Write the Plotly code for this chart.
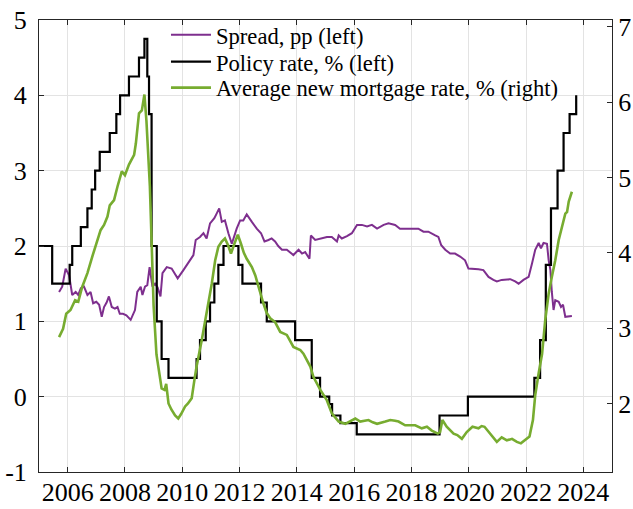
import plotly.graph_objects as go

# ---------------- data ----------------
policy_x = [2005.00, 2005.46, 2006.07, 2006.16, 2006.46, 2006.69, 2006.84, 2006.96, 2007.12,
            2007.47, 2007.70, 2007.83, 2008.14, 2008.49, 2008.68, 2008.78, 2008.84, 2008.93,
            2009.11, 2009.28, 2009.52, 2010.50, 2010.62, 2010.82, 2010.97, 2011.12, 2011.26,
            2011.44, 2011.96, 2012.10, 2012.75, 2012.95, 2013.94, 2014.52, 2014.81, 2015.13,
            2015.23, 2015.52, 2016.09, 2018.98, 2019.97, 2022.29, 2022.49, 2022.69, 2022.87,
            2023.10, 2023.31, 2023.52, 2023.75]
policy_y = [2.00, 1.50, 1.75, 2.00, 2.25, 2.50, 2.75, 3.00, 3.25,
            3.50, 3.75, 4.00, 4.25, 4.50, 4.75, 4.25, 3.75, 2.00,
            1.00, 0.50, 0.25, 0.50, 0.75, 1.00, 1.25, 1.50, 1.75,
            2.00, 1.75, 1.50, 1.25, 1.00, 0.75, 0.25, 0.00, -0.10,
            -0.25, -0.35, -0.50, -0.25, 0.00, 0.25, 0.75, 1.75, 2.50,
            3.00, 3.50, 3.75, 4.00]

spread_x = [2005.70, 2005.81, 2005.93, 2006.05, 2006.16, 2006.28, 2006.37, 2006.46, 2006.57,
            2006.69, 2006.80, 2006.89, 2007.00, 2007.10, 2007.19, 2007.27, 2007.36, 2007.44,
            2007.54, 2007.65, 2007.74, 2007.82, 2007.93, 2008.05, 2008.20, 2008.35, 2008.43,
            2008.55, 2008.61, 2008.70, 2008.78, 2008.86, 2008.96, 2009.05, 2009.14, 2009.24,
            2009.31, 2009.46, 2009.63, 2009.84, 2010.04, 2010.21, 2010.39, 2010.47, 2010.62,
            2010.74, 2010.85, 2010.97, 2011.12, 2011.20, 2011.29, 2011.38, 2011.49, 2011.61,
            2011.73, 2011.90, 2012.02, 2012.13, 2012.25, 2012.43, 2012.60, 2012.75, 2012.87,
            2013.01, 2013.12, 2013.24, 2013.35, 2013.48, 2013.65, 2013.88, 2014.06, 2014.18,
            2014.29, 2014.44, 2014.49, 2014.64, 2014.82, 2015.05, 2015.22, 2015.40, 2015.46,
            2015.57, 2015.75, 2015.92, 2016.10, 2016.27, 2016.45, 2016.62, 2016.80, 2017.03,
            2017.20, 2017.43, 2017.60, 2017.78, 2018.01, 2018.24, 2018.42, 2018.59, 2018.83,
            2018.94, 2019.04, 2019.18, 2019.35, 2019.52, 2019.70, 2019.87, 2019.99, 2020.16,
            2020.34, 2020.51, 2020.69, 2020.86, 2020.98, 2021.15, 2021.27, 2021.45, 2021.62,
            2021.74, 2021.91, 2022.09, 2022.21, 2022.32, 2022.44, 2022.52, 2022.61, 2022.73,
            2022.79, 2022.85, 2022.90, 2022.96, 2023.02, 2023.14, 2023.22, 2023.29, 2023.37,
            2023.49, 2023.60]
spread_y = [1.39, 1.46, 1.70, 1.61, 1.35, 1.39, 1.35, 1.44, 1.46,
            1.35, 1.39, 1.24, 1.26, 1.22, 1.06, 1.19, 1.25, 1.33,
            1.19, 1.17, 1.19, 1.10, 1.10, 1.08, 1.02, 1.15, 1.39,
            1.46, 1.35, 1.46, 1.48, 1.72, 1.46, 1.50, 1.45, 1.33,
            1.64, 1.72, 1.70, 1.57, 1.68, 1.77, 1.88, 2.08, 2.12,
            2.17, 2.10, 2.30, 2.37, 2.43, 2.50, 2.32, 2.34, 2.17,
            2.03, 2.23, 2.34, 2.34, 2.42, 2.32, 2.23, 2.17, 2.06,
            2.08, 2.10, 2.06, 2.00, 1.95, 1.95, 1.88, 1.95, 1.90,
            1.92, 1.83, 2.14, 2.08, 2.10, 2.12, 2.12, 2.06, 2.14,
            2.10, 2.13, 2.17, 2.28, 2.28, 2.26, 2.28, 2.23, 2.28,
            2.30, 2.28, 2.23, 2.23, 2.23, 2.23, 2.19, 2.19, 2.14,
            2.12, 2.01, 1.95, 1.90, 1.90, 1.86, 1.81, 1.70, 1.70,
            1.69, 1.68, 1.59, 1.55, 1.53, 1.55, 1.55, 1.56, 1.53,
            1.50, 1.55, 1.59, 1.77, 1.95, 2.04, 1.97, 2.04, 2.03,
            1.81, 1.68, 1.39, 1.15, 1.28, 1.26, 1.19, 1.22, 1.06,
            1.07, 1.07]

mortgage_x = [2005.70, 2005.84, 2005.95, 2006.10, 2006.26, 2006.37, 2006.51, 2006.69, 2006.86,
              2007.00, 2007.15, 2007.27, 2007.39, 2007.47, 2007.62, 2007.74, 2007.89, 2008.00,
              2008.14, 2008.32, 2008.38, 2008.49, 2008.59, 2008.68, 2008.75, 2008.87, 2008.93,
              2009.00, 2009.10, 2009.20, 2009.28, 2009.38, 2009.44, 2009.52, 2009.62, 2009.75,
              2009.86, 2009.96, 2010.10, 2010.20, 2010.33, 2010.42, 2010.50, 2010.68, 2010.85,
              2011.03, 2011.15, 2011.26, 2011.38, 2011.49, 2011.60, 2011.70, 2011.82, 2011.94,
              2012.05, 2012.15, 2012.25, 2012.43, 2012.55, 2012.66, 2012.83, 2012.95, 2013.07,
              2013.24, 2013.42, 2013.65, 2013.88, 2014.12, 2014.23, 2014.47, 2014.58, 2014.82,
              2015.05, 2015.22, 2015.46, 2015.69, 2015.85, 2016.04, 2016.21, 2016.50, 2016.65,
              2016.80, 2017.09, 2017.26, 2017.43, 2017.55, 2017.78, 2018.13, 2018.36, 2018.54,
              2018.71, 2018.92, 2019.00, 2019.08, 2019.23, 2019.47, 2019.60, 2019.76, 2019.93,
              2020.13, 2020.34, 2020.45, 2020.55, 2020.78, 2020.98, 2021.15, 2021.33, 2021.51,
              2021.68, 2021.82, 2021.97, 2022.12, 2022.24, 2022.32, 2022.44, 2022.56, 2022.67,
              2022.79, 2022.90, 2023.02, 2023.14, 2023.25, 2023.37, 2023.43, 2023.49, 2023.60]
mortgage_y = [2.88, 2.99, 3.19, 3.24, 3.37, 3.35, 3.55, 3.73, 3.95,
              4.12, 4.30, 4.37, 4.48, 4.63, 4.70, 4.88, 5.08, 5.03,
              5.17, 5.30, 5.45, 5.85, 5.89, 6.10, 5.75, 4.88, 4.05,
              3.30, 2.65, 2.40, 2.20, 2.18, 2.26, 2.00, 1.92, 1.84,
              1.80, 1.86, 1.96, 2.00, 2.07, 2.30, 2.49, 2.84, 3.19,
              3.59, 3.90, 4.08, 4.15, 4.19, 4.10, 3.99, 4.12, 4.24,
              4.12, 4.00, 3.92, 3.81, 3.70, 3.55, 3.33, 3.20, 3.13,
              3.08, 2.95, 2.91, 2.75, 2.71, 2.66, 2.49, 2.35, 2.18,
              2.04, 1.87, 1.76, 1.73, 1.76, 1.80, 1.76, 1.78, 1.75,
              1.73, 1.76, 1.78, 1.77, 1.76, 1.71, 1.71, 1.67, 1.69,
              1.64, 1.60, 1.62, 1.78, 1.69, 1.60, 1.58, 1.53, 1.62,
              1.69, 1.67, 1.70, 1.69, 1.58, 1.49, 1.55, 1.51, 1.53,
              1.49, 1.47, 1.51, 1.56, 1.78, 2.11, 2.40, 2.66, 3.11,
              3.46, 3.68, 3.90, 4.17, 4.35, 4.52, 4.54, 4.68, 4.81]

x_ticks = [2006, 2008, 2010, 2012, 2014, 2016, 2018, 2020, 2022, 2024]
x_labels = ["2006", "2008", "2010", "2012", "2014", "2016", "2018", "2020", "2022", "2024"]
left_ticks = [-1, 0, 1, 2, 3, 4, 5]
left_labels = ["-1", "0", "1", "2", "3", "4", "5"]
right_ticks = [2, 3, 4, 5, 6, 7]
right_labels = ["2", "3", "4", "5", "6", "7"]

names = ["Spread, pp (left)", "Policy rate, % (left)", "Average new mortgage rate, % (right)"]

# ---------------- figure ----------------
FONT = "Liberation Serif"
AX = "#262626"
GRID = "#e3e3e3"
LEG_FONT = dict(family=FONT, size=22.6, color="#000000")

fig = go.Figure()
fig.add_trace(go.Scatter(x=spread_x, y=spread_y, mode="lines", name=names[0],
                         legend="legend",
                         line=dict(color="#7E2F8E", width=2)))
fig.add_trace(go.Scatter(x=policy_x, y=policy_y, mode="lines", name=names[1],
                         legend="legend2",
                         line=dict(color="#000000", width=2.2, shape="hv")))
fig.add_trace(go.Scatter(x=mortgage_x, y=mortgage_y, mode="lines", name=names[2],
                         legend="legend3", yaxis="y2",
                         line=dict(color="#77AC30", width=2.6)))


def leg(yc):
    return dict(x=0.2216, y=yc, xanchor="left", yanchor="middle",
                bgcolor="rgba(0,0,0,0)", borderwidth=0, itemwidth=40,
                font=LEG_FONT)


fig.update_layout(
    width=633, height=509,
    margin=dict(l=39, r=21, t=20, b=37, autoexpand=False),
    paper_bgcolor="white", plot_bgcolor="white",
    font=dict(family=FONT, size=26, color=AX),
    showlegend=True,
    legend=leg(0.9668),
    legend2=leg(0.9071),
    legend3=leg(0.8496),
    xaxis=dict(range=[2005, 2025], tickmode="array", tickvals=x_ticks, ticktext=x_labels,
               automargin=False,
               showgrid=True, gridcolor=GRID, gridwidth=1, zeroline=False,
               showline=True, linecolor=AX, linewidth=1, mirror="ticks",
               ticks="inside", ticklen=5, tickcolor=AX, tickwidth=1,
               ticklabelstandoff=-3,
               tickfont=dict(family=FONT, size=26, color="#000000")),
    yaxis=dict(range=[-1, 5], tickmode="array", tickvals=left_ticks, ticktext=left_labels,
               automargin=False,
               showgrid=True, gridcolor=GRID, gridwidth=1, zeroline=False,
               showline=True, linecolor=AX, linewidth=1, mirror=False,
               ticks="inside", ticklen=5, tickcolor=AX, tickwidth=1,
               ticklabelstandoff=6,
               tickfont=dict(family=FONT, size=26, color="#000000")),
    yaxis2=dict(range=[1.09, 7.09], overlaying="y", side="right",
                automargin=False,
                tickmode="array", tickvals=right_ticks, ticktext=right_labels,
                showgrid=False, zeroline=False,
                showline=True, linecolor=AX, linewidth=1,
                ticks="inside", ticklen=5, tickcolor=AX, tickwidth=1,
                tickfont=dict(family=FONT, size=26, color="#000000")),
)

# remove the browser's default 8px body margin so the figure sits at the page origin
fig.write_html("out.html",
               config={"displayModeBar": False},
               post_script="document.body.style.margin='0';document.body.style.overflow='hidden';")
